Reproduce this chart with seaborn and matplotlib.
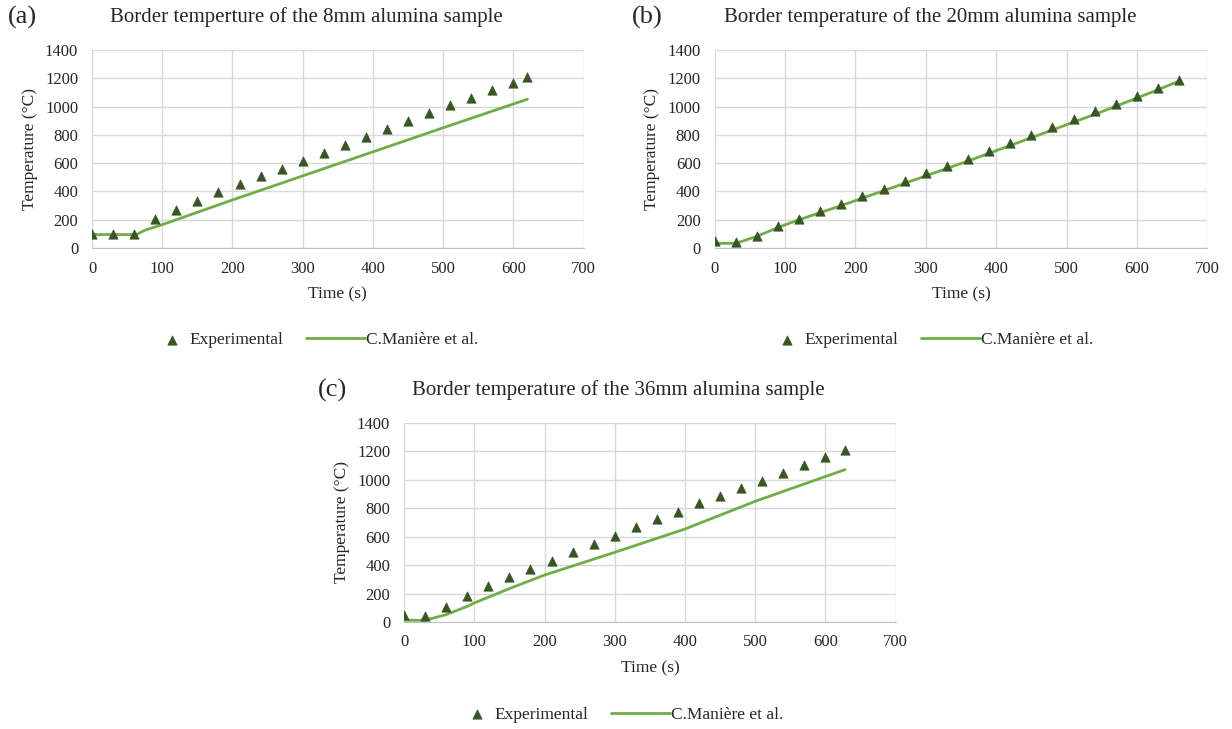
import matplotlib
matplotlib.use("Agg")
import matplotlib.pyplot as plt
import seaborn as sns
import pandas as pd
from matplotlib.legend_handler import HandlerPathCollection
from matplotlib.collections import PathCollection

# Experimental points (time in s, temperature in °C)
t_exp_a = [0, 30, 60, 90, 120, 150, 180, 210, 240, 270, 300, 330, 360, 390,
           420, 450, 480, 510, 540, 570, 600, 620]
T_exp_a = [100, 100, 100, 207, 270, 334, 395, 456, 510, 562, 614, 675, 727, 786,
           845, 896, 955, 1009, 1061, 1115, 1169, 1207]

t_exp_b = [0, 30, 60, 90, 120, 150, 180, 210, 240, 270, 300, 330, 360, 390,
           420, 450, 480, 510, 540, 570, 600, 630, 660]
T_exp_b = [47, 45, 87, 158, 205, 261, 313, 365, 416, 475, 527, 581, 631, 687,
           741, 800, 859, 913, 967, 1019, 1078, 1129, 1186]

t_exp_c = [0, 30, 60, 90, 120, 150, 180, 210, 240, 270, 300, 330, 360, 390,
           420, 450, 480, 510, 540, 570, 600, 628]
T_exp_c = [47, 40, 103, 185, 256, 319, 373, 429, 490, 549, 607, 668, 725, 776,
           835, 889, 940, 994, 1046, 1107, 1161, 1212]

# Simulation curves (C.Manière et al.)
t_sim_a = [0, 63, 75, 100, 200, 300, 400, 500, 620]
T_sim_a = [95, 95, 125, 165, 340, 510, 680, 850, 1052]

t_sim_b = [0, 30, 60, 90, 120, 180, 240, 300, 360, 420, 480, 540, 600, 660]
T_sim_b = [33, 33, 82, 145, 200, 300, 405, 510, 615, 725, 835, 945, 1060, 1180]

t_sim_c = [0, 30, 60, 90, 100, 150, 200, 300, 400, 500, 628]
T_sim_c = [12, 12, 52, 110, 134, 235, 330, 490, 654, 849, 1072]

letters = ["(a)", "(b)", "(c)"]
titles = ["Border temperture of the 8mm alumina sample",
          "Border temperature of the 20mm alumina sample",
          "Border temperature of the 36mm alumina sample"]


class MarcadorDerecha(HandlerPathCollection):
    # pone el triangulo cerca del texto, como en Excel
    def get_xdata(self, legend, xdescent, ydescent, width, height, fontsize):
        xdata, _ = super().get_xdata(legend, xdescent, ydescent, width, height, fontsize)
        return xdata, [-xdescent + width - 0.95 * fontsize]


sns.set_style("whitegrid")
plt.rcParams['font.family'] = ['Liberation Serif', 'DejaVu Serif']

fig = plt.figure(figsize=(12.32, 7.29), dpi=100)

# [left, bottom, width, height] in figure fractions
posiciones = [[0.0747, 0.6598, 0.399, 0.2716],
              [0.580, 0.6598, 0.400, 0.2716],
              [0.328, 0.1468, 0.399, 0.2730]]
# title centre x, title y, letter x (fig fractions)
textos = [(0.249, 0.976, 0.006), (0.755, 0.976, 0.513), (0.502, 0.465, 0.258)]
leyenda_x = [0.431, 0.414, 0.417]

datos = [(t_exp_a, T_exp_a, t_sim_a, T_sim_a),
         (t_exp_b, T_exp_b, t_sim_b, T_sim_b),
         (t_exp_c, T_exp_c, t_sim_c, T_sim_c)]

verde_osc = "#375623"
verde = "#70AD47"

for i, (te, Te, ts, Ts) in enumerate(datos):
    ax = fig.add_axes(posiciones[i])
    exp = pd.DataFrame({"t": te, "T": Te})
    sim = pd.DataFrame({"t": ts, "T": Ts})
    sns.scatterplot(data=exp, x="t", y="T", marker="^", s=45, color=verde_osc,
                    edgecolor=verde_osc, linewidth=0.5, ax=ax,
                    label="Experimental", zorder=3)
    sns.lineplot(data=sim, x="t", y="T", color=verde, linewidth=2, ax=ax,
                 label="C.Manière et al.", zorder=2)
    ax.set_xlim(0, 700)
    ax.set_ylim(0, 1400)
    ax.set_xticks(range(0, 701, 100))
    ax.set_yticks(range(0, 1401, 200))
    ax.grid(True, color="#d9d9d9", linewidth=1)
    for s in ["top", "right", "left"]:
        ax.spines[s].set_visible(False)
    ax.spines["bottom"].set_color("#bfbfbf")
    ax.tick_params(axis="both", length=0, labelsize=12)
    ax.tick_params(axis="x", pad=9)
    ax.tick_params(axis="y", pad=10)
    ax.set_xlabel("Time (s)", fontsize=12.5, labelpad=7)
    ax.set_ylabel("Temperature (°C)", fontsize=12.5, labelpad=5)
    ax.legend(loc="center", bbox_to_anchor=(leyenda_x[i], -0.465), ncol=2,
              frameon=False, fontsize=12.5, handlelength=3.4, columnspacing=1.3,
              handletextpad=0.05,
              handler_map={PathCollection: MarcadorDerecha()})
    tx, ty, lx = textos[i]
    fig.text(tx, ty, titles[i], ha="center", va="center", fontsize=15)
    fig.text(lx, ty, letters[i], ha="left", va="center", fontsize=19)

fig.savefig("out.png", dpi=100)
